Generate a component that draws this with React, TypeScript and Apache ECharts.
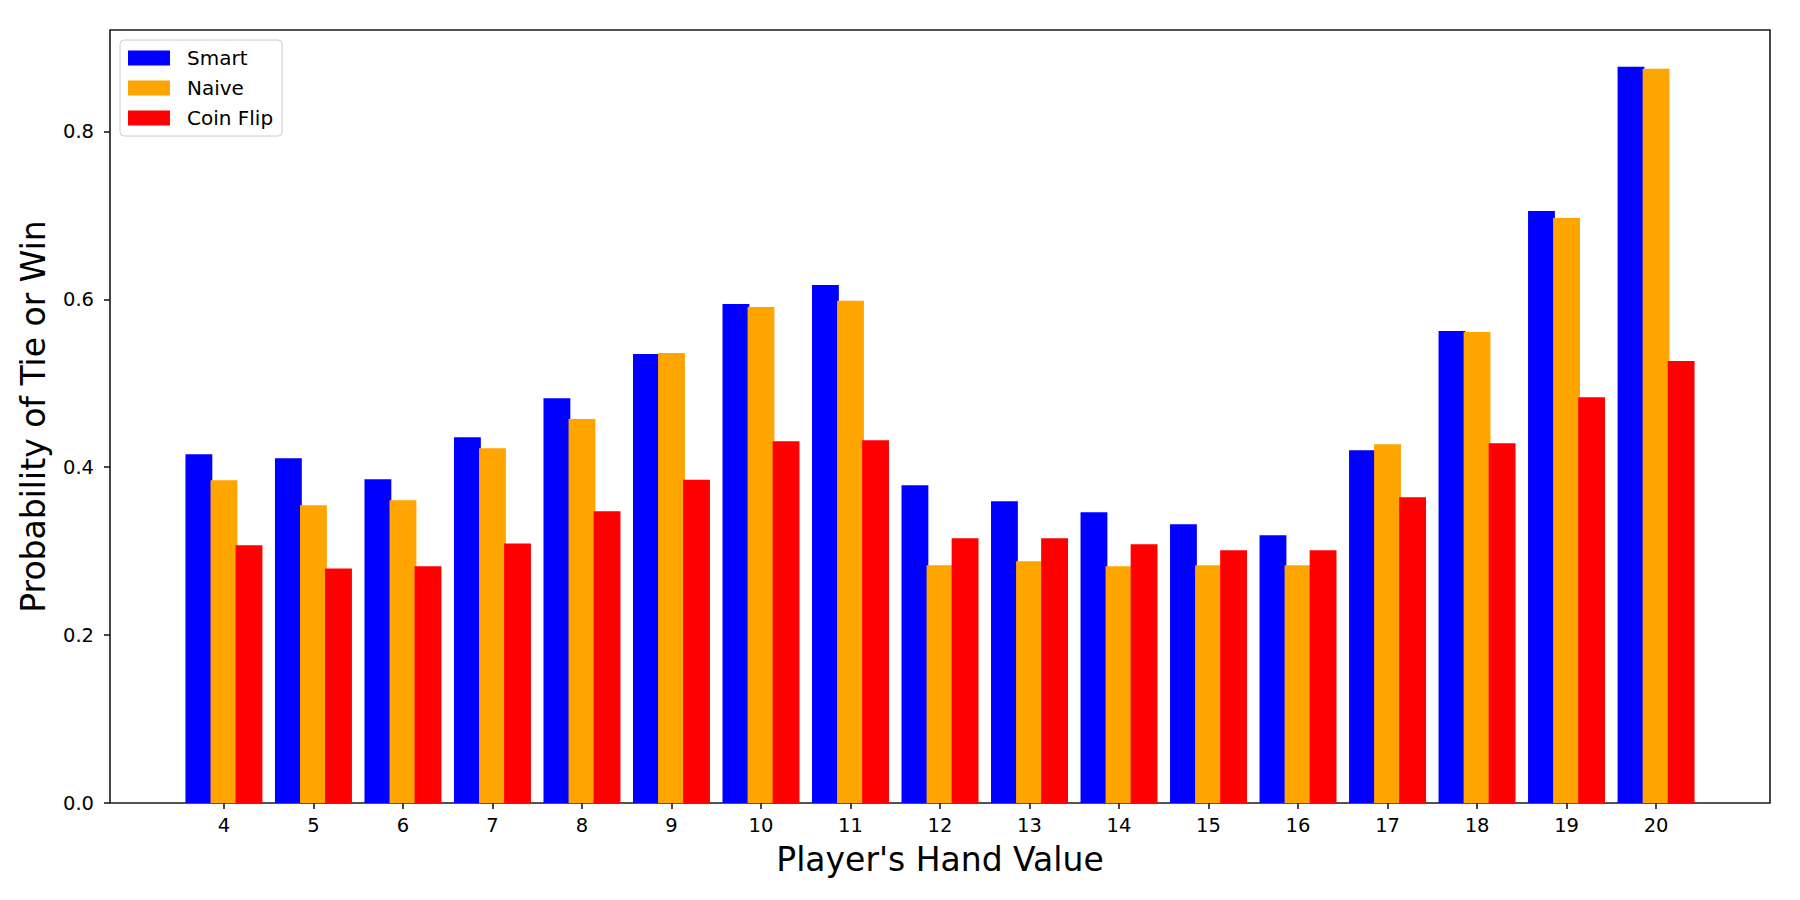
import React, { useEffect, useRef } from "react";
import * as echarts from "echarts";

const hands = [4, 5, 6, 7, 8, 9, 10, 11, 12, 13, 14, 15, 16, 17, 18, 19, 20];
const smart = [0.4155, 0.4107, 0.3857, 0.4358, 0.4823, 0.5348, 0.5944, 0.617, 0.3785, 0.3594, 0.3463, 0.332, 0.3189, 0.4203, 0.5622, 0.7053, 0.877];
const naive = [0.3845, 0.3547, 0.3606, 0.4226, 0.4573, 0.536, 0.5908, 0.5983, 0.2831, 0.2879, 0.2819, 0.2831, 0.2831, 0.4274, 0.561, 0.697, 0.8747];
const coinFlip = [0.307, 0.2795, 0.282, 0.309, 0.3475, 0.385, 0.431, 0.4322, 0.3153, 0.3153, 0.3082, 0.301, 0.301, 0.3642, 0.4286, 0.4835, 0.5265];
const yTicks = [0, 0.2, 0.4, 0.6, 0.8];
const seriesNames = ["Smart", "Naive", "Coin Flip"];
const seriesColors = ["#0000ff", "#ffa500", "#ff0000"];

const BAR_W = 0.3;
const OFFSETS = [-0.28, 0, 0.28];
const FONT = "DejaVu Sans";

export default function App() {
  const ref = useRef<HTMLDivElement>(null);
  useEffect(() => {
    document.body.style.margin = "0";
    if (!ref.current) return;
    const chart = echarts.init(ref.current, undefined, { renderer: "svg" });
    const allData = [smart, naive, coinFlip];
    const series = allData.map((vals, si) => ({
      type: "custom",
      name: seriesNames[si],
      itemStyle: { color: seriesColors[si] },
      data: hands.map((h, i) => [h, vals[i]]),
      renderItem: (params: any, api: any) => {
        const x = api.value(0) as number;
        const y = api.value(1) as number;
        const p0 = api.coord([x + OFFSETS[si] - BAR_W / 2, y]);
        const p1 = api.coord([x + OFFSETS[si] + BAR_W / 2, 0]);
        return {
          type: "rect",
          shape: { x: p0[0], y: p0[1], width: p1[0] - p0[0], height: p1[1] - p0[1] },
          style: { fill: seriesColors[si] },
        };
      },
    }));
    const xMinData = hands[0] + OFFSETS[0] - BAR_W / 2;
    const xMaxData = hands[hands.length - 1] + OFFSETS[2] + BAR_W / 2;
    const xMargin = (xMaxData - xMinData) * 0.05;
    const yMax = Math.max(...smart, ...naive, ...coinFlip) * 1.05;
    chart.setOption({
      animation: false,
      backgroundColor: "#ffffff",
      textStyle: { fontFamily: FONT },
      grid: {
        left: 110,
        right: 30,
        top: 30,
        bottom: 97,
        show: true,
        borderColor: "#1a1a1a",
        borderWidth: 1.6,
        containLabel: false,
      },
      legend: {
        orient: "vertical",
        left: 120,
        top: 40,
        padding: [8, 9, 8, 8],
        itemWidth: 42,
        itemHeight: 15,
        itemGap: 10,
        borderColor: "#cccccc",
        borderWidth: 1,
        borderRadius: 4,
        backgroundColor: "rgba(255,255,255,0.8)",
        textStyle: { fontFamily: FONT, fontSize: 20, color: "#000", lineHeight: 20, padding: [0, 0, 0, 12] },
        data: seriesNames.map((n, i) => ({ name: n, icon: "rect", itemStyle: { color: seriesColors[i] } })),
      },
      xAxis: {
        type: "value",
        min: xMinData - xMargin,
        max: xMaxData + xMargin,
        name: "Player's Hand Value",
        nameLocation: "middle",
        nameGap: 40,
        nameTextStyle: { fontFamily: FONT, fontSize: 33, color: "#000" },
        axisLine: { show: false },
        splitLine: { show: false },
        axisTick: {
          show: true,
          length: 6,
          lineStyle: { color: "#1a1a1a", width: 1.6 },
          customValues: hands,
        },
        axisLabel: {
          fontFamily: FONT,
          fontSize: 19.5,
          color: "#000",
          margin: 12,
          customValues: hands,
          formatter: (v: number) => String(v),
        },
      },
      yAxis: {
        type: "value",
        min: 0,
        max: yMax,
        interval: 0.2,
        name: "Probability of Tie or Win",
        nameLocation: "middle",
        nameGap: 60,
        nameTextStyle: { fontFamily: FONT, fontSize: 33, color: "#000" },
        axisLine: { show: false },
        splitLine: { show: false },
        axisTick: {
          show: true,
          length: 6,
          lineStyle: { color: "#1a1a1a", width: 1.6 },
          customValues: yTicks,
        },
        axisLabel: {
          fontFamily: FONT,
          fontSize: 19.5,
          color: "#000",
          margin: 16,
          customValues: yTicks,
          formatter: (v: number) => v.toFixed(1),
        },
      },
      series,
    });
    return () => chart.dispose();
  }, []);
  return <div ref={ref} style={{ position: "absolute", left: 0, top: 0, width: 1800, height: 900 }} />;
}
